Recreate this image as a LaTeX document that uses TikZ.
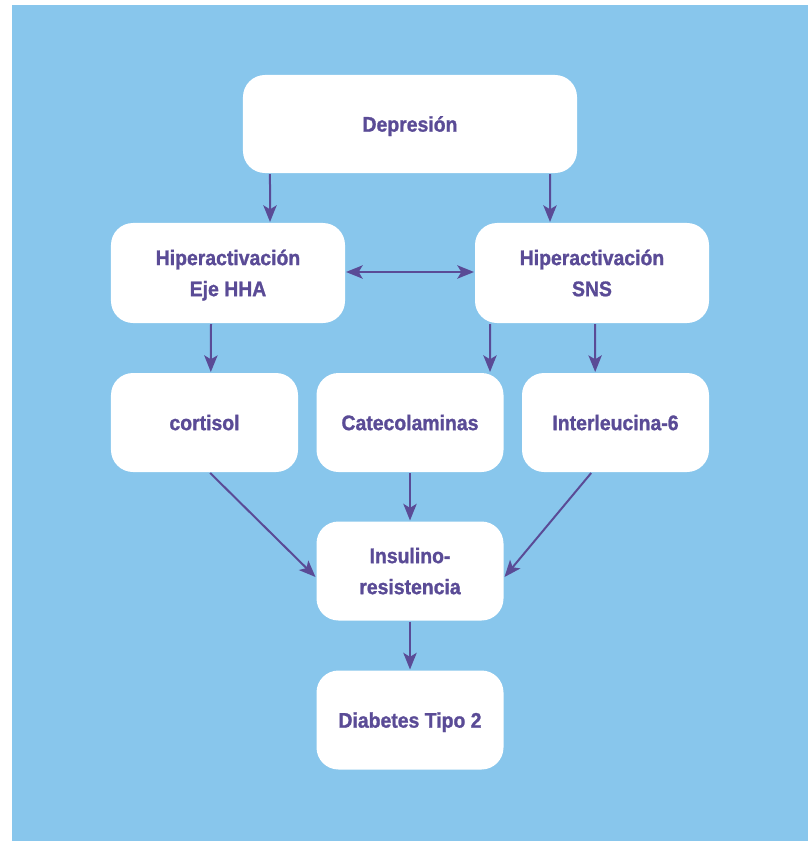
\documentclass[tikz,border=0pt]{standalone}
\usepackage{fontspec}
\setmainfont{Liberation Sans}[FakeStretch=0.92,BoldFeatures={FakeBold=1.2}]
\usetikzlibrary{calc,arrows.meta}
\definecolor{bgblue}{HTML}{88C6EC}
\definecolor{txtpurple}{HTML}{5A4B96}

\begin{document}
\begin{tikzpicture}[x=0.03cm,y=-0.03cm,line width=0.06cm,>={Stealth[length=0.5cm,width=0.4cm,inset=0.12cm]},color=txtpurple]
	\tikzset{box/.style={fill=white,draw=none,rounded corners=0.66cm,align=center,
			font=\fontsize{18}{26.5}\selectfont\bfseries,text=txtpurple,inner sep=0pt,text depth=-1.5pt},
		wide/.style={box,minimum width=10.02cm,minimum height=2.94cm},
		mid/.style={box,minimum width=7.02cm,minimum height=3cm},
		small/.style={box,minimum width=5.61cm,minimum height=2.97cm}}
	\useasboundingbox (0,0) rectangle (808,845);
	\fill[bgblue] (12,5) rectangle (808,841);
	% boxes
	\node[wide] (dep) at (410,124) {Depresi\smash{ó}n};
	\node[mid] (hha) at (228,273) {Hiperactivaci\smash{ó}n\\Eje HHA};
	\node[mid] (sns) at (592,273) {Hiperactivaci\smash{ó}n\\SNS};
	\node[small] (cort) at (204.5,422.5) {cortisol};
	\node[small] (cat) at (410,422.5) {Catecolaminas};
	\node[small] (il6) at (615.5,422.5) {Interleucina-6};
	\node[small] (ins) at (410,571) {Insulino-\\resistencia};
	\node[small] (dm) at (410,720) {Diabetes Tipo 2};
	% arrows
	\draw[->] ([xshift=-4.2cm]dep.south) -- ([xshift=1.26cm]hha.north);
	\draw[->] ([xshift=4.2cm]dep.south) -- ([xshift=-1.26cm]sns.north);
	\draw[<->] ([yshift=0.03cm]hha.east) -- ([yshift=0.03cm]sns.west);
	\draw[->] ([xshift=-0.51cm]hha.south) -- ([xshift=0.19cm]cort.north);
	\draw[->] ([xshift=-3.06cm]sns.south) -- ([xshift=2.4cm]cat.north);
	\draw[->] ([xshift=0.09cm]sns.south) -- ([xshift=-0.61cm]il6.north);
	\draw[->] ([xshift=0.17cm]cort.south) -- ([yshift=-0.18cm]ins.west);
	\draw[->] (cat) -- (ins);
	\draw[->] ([xshift=-0.73cm]il6.south) -- ([yshift=-0.18cm]ins.east);
	\draw[->] (ins) -- (dm);
\end{tikzpicture}
\end{document}
